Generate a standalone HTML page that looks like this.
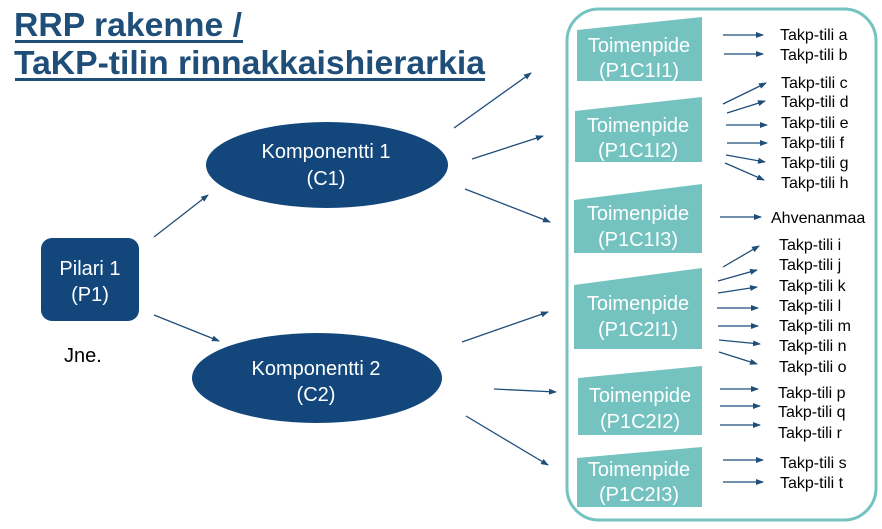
<!DOCTYPE html>
<html><head><meta charset="utf-8"><style>
html,body{margin:0;padding:0;background:#fff;}
svg{display:block;font-family:"Liberation Sans",sans-serif;}
</style></head><body>
<svg width="882" height="529" viewBox="0 0 882 529" xmlns="http://www.w3.org/2000/svg">
<defs>
<marker id="a" markerWidth="8" markerHeight="8" refX="7" refY="4" orient="auto" markerUnits="userSpaceOnUse">
<path d="M0,1 L8,4 L0,7 Z" fill="#1f4e79"/></marker>
</defs>
<g fill="#1f4e79" font-weight="bold" font-size="33">
<text x="14" y="36" textLength="228" lengthAdjust="spacingAndGlyphs">RRP rakenne /</text>
<text x="14" y="74" textLength="471" lengthAdjust="spacingAndGlyphs">TaKP-tilin rinnakkaishierarkia</text>
</g>
<rect x="15" y="40" width="228" height="3" fill="#1f4e79"/>
<rect x="15" y="78" width="470" height="3" fill="#1f4e79"/>

<rect x="567" y="9" width="309" height="511" rx="32" fill="none" stroke="#74c3c0" stroke-width="3"/>

<rect x="41" y="238" width="98" height="83" rx="11" fill="#13477c"/>
<g fill="#fff" font-size="20" text-anchor="middle">
<text x="90" y="275">Pilari 1</text><text x="90" y="301">(P1)</text>
</g>
<text x="64" y="362" font-size="20" fill="#000">Jne.</text>
<ellipse cx="327" cy="165" rx="121" ry="43" fill="#13477c"/>
<ellipse cx="317" cy="378" rx="125" ry="45" fill="#13477c"/>
<g fill="#fff" font-size="20" text-anchor="middle">
<text x="326" y="158">Komponentti 1</text><text x="326" y="185">(C1)</text>
<text x="316" y="375">Komponentti 2</text><text x="316" y="401">(C2)</text>
</g>

<g fill="#74c3c0">
<polygon points="577,30 702,17 702,81 577,81"/>
<polygon points="575,111 702,97 702,162 575,162"/>
<polygon points="574,200 702,184 702,253 574,253"/>
<polygon points="574,285 702,268 702,349 574,349"/>
<polygon points="578,378 702,366 702,435 578,435"/>
<polygon points="577,458 702,447 702,507 577,507"/>
</g>
<g fill="#fff" font-size="20" text-anchor="middle">
<text x="639" y="52">Toimenpide</text><text x="639" y="77">(P1C1I1)</text>
<text x="638" y="132">Toimenpide</text><text x="638" y="157">(P1C1I2)</text>
<text x="638" y="220">Toimenpide</text><text x="638" y="246">(P1C1I3)</text>
<text x="638" y="310">Toimenpide</text><text x="638" y="336">(P1C2I1)</text>
<text x="640" y="402">Toimenpide</text><text x="640" y="428">(P1C2I2)</text>
<text x="639" y="476">Toimenpide</text><text x="639" y="501">(P1C2I3)</text>
</g>

<g fill="#000" font-size="16">
<text x="780" y="40">Takp-tili a</text>
<text x="780" y="60">Takp-tili b</text>
<text x="781" y="88">Takp-tili c</text>
<text x="781" y="107">Takp-tili d</text>
<text x="781" y="128">Takp-tili e</text>
<text x="781" y="148">Takp-tili f</text>
<text x="781" y="168">Takp-tili g</text>
<text x="781" y="188">Takp-tili h</text>
<text x="771" y="223">Ahvenanmaa</text>
<text x="779" y="250">Takp-tili i</text>
<text x="779" y="270">Takp-tili j</text>
<text x="779" y="291">Takp-tili k</text>
<text x="779" y="311">Takp-tili l</text>
<text x="779" y="331">Takp-tili m</text>
<text x="779" y="351">Takp-tili n</text>
<text x="779" y="372">Takp-tili o</text>
<text x="778" y="398">Takp-tili p</text>
<text x="778" y="417">Takp-tili q</text>
<text x="778" y="438">Takp-tili r</text>
<text x="780" y="468">Takp-tili s</text>
<text x="780" y="488">Takp-tili t</text>
</g>

<g stroke="#1f4e79" stroke-width="1.3" fill="none" marker-end="url(#a)">
<line x1="154" y1="237" x2="208" y2="195"/>
<line x1="154" y1="315" x2="219" y2="341"/>
<line x1="454" y1="128" x2="531" y2="73"/>
<line x1="472" y1="159" x2="543" y2="136"/>
<line x1="465" y1="189" x2="550" y2="222"/>
<line x1="462" y1="342" x2="548" y2="312"/>
<line x1="494" y1="389" x2="556" y2="392"/>
<line x1="466" y1="416" x2="548" y2="465"/>

<line x1="723" y1="35" x2="763" y2="35"/>
<line x1="724" y1="54" x2="763" y2="54"/>
<line x1="723" y1="104" x2="766" y2="83"/>
<line x1="727" y1="113" x2="765" y2="101"/>
<line x1="726" y1="125" x2="767" y2="125"/>
<line x1="727" y1="143" x2="767" y2="143"/>
<line x1="726" y1="155" x2="765" y2="162"/>
<line x1="725" y1="163" x2="764" y2="180"/>
<line x1="720" y1="217" x2="761" y2="217"/>
<line x1="723" y1="267" x2="759" y2="246"/>
<line x1="718" y1="281" x2="757" y2="270"/>
<line x1="718" y1="293" x2="757" y2="287"/>
<line x1="717" y1="308" x2="758" y2="308"/>
<line x1="718" y1="326" x2="758" y2="326"/>
<line x1="719" y1="340" x2="760" y2="344"/>
<line x1="719" y1="352" x2="757" y2="364"/>
<line x1="720" y1="389" x2="758" y2="389"/>
<line x1="720" y1="406" x2="760" y2="406"/>
<line x1="720" y1="425" x2="760" y2="425"/>
<line x1="723" y1="460" x2="763" y2="460"/>
<line x1="723" y1="482" x2="763" y2="482"/>
</g>
</svg>
</body></html>
